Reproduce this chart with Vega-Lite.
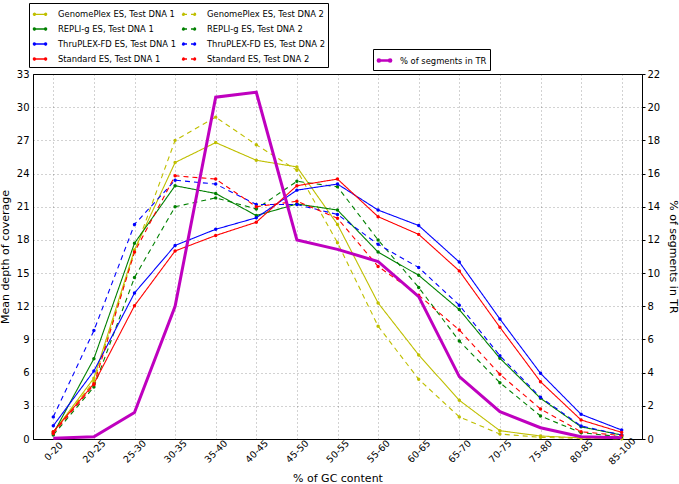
{
  "$schema": "https://vega.github.io/schema/vega-lite/v6.json",
  "width": 609,
  "height": 365,
  "autosize": {"type": "none"},
  "padding": {"left": 33, "top": 74, "right": 37, "bottom": 45},
  "config": {
    "font": "DejaVu Sans",
    "view": {"stroke": "#000", "strokeWidth": 1},
    "axis": {
      "domainColor": "#000", "tickColor": "#000", "labelColor": "#000", "titleColor": "#000",
      "titleFontWeight": "normal", "labelFontSize": 10, "titleFontSize": 11,
      "gridColor": "#000", "gridOpacity": 0.45, "gridDash": [1, 3], "gridWidth": 0.8
    },
    "legend": {"labelColor": "#000", "labelFont": "DejaVu Sans"}
  },
  "datasets": {
    "cov": [
      {"gc": "0-20", "series": "GenomePlex ES, Test DNA 1", "depth": 0.6},
      {"gc": "20-25", "series": "GenomePlex ES, Test DNA 1", "depth": 5.5},
      {"gc": "25-30", "series": "GenomePlex ES, Test DNA 1", "depth": 17.1},
      {"gc": "30-35", "series": "GenomePlex ES, Test DNA 1", "depth": 25.0},
      {"gc": "35-40", "series": "GenomePlex ES, Test DNA 1", "depth": 26.8},
      {"gc": "40-45", "series": "GenomePlex ES, Test DNA 1", "depth": 25.2},
      {"gc": "45-50", "series": "GenomePlex ES, Test DNA 1", "depth": 24.6},
      {"gc": "50-55", "series": "GenomePlex ES, Test DNA 1", "depth": 19.4},
      {"gc": "55-60", "series": "GenomePlex ES, Test DNA 1", "depth": 12.3},
      {"gc": "60-65", "series": "GenomePlex ES, Test DNA 1", "depth": 7.6},
      {"gc": "65-70", "series": "GenomePlex ES, Test DNA 1", "depth": 3.5},
      {"gc": "70-75", "series": "GenomePlex ES, Test DNA 1", "depth": 0.75},
      {"gc": "75-80", "series": "GenomePlex ES, Test DNA 1", "depth": 0.27},
      {"gc": "80-85", "series": "GenomePlex ES, Test DNA 1", "depth": 0.1},
      {"gc": "85-100", "series": "GenomePlex ES, Test DNA 1", "depth": 0.05},

      {"gc": "0-20", "series": "GenomePlex ES, Test DNA 2", "depth": 0.65},
      {"gc": "20-25", "series": "GenomePlex ES, Test DNA 2", "depth": 5.2},
      {"gc": "25-30", "series": "GenomePlex ES, Test DNA 2", "depth": 16.9},
      {"gc": "30-35", "series": "GenomePlex ES, Test DNA 2", "depth": 27.0},
      {"gc": "35-40", "series": "GenomePlex ES, Test DNA 2", "depth": 29.1},
      {"gc": "40-45", "series": "GenomePlex ES, Test DNA 2", "depth": 26.6},
      {"gc": "45-50", "series": "GenomePlex ES, Test DNA 2", "depth": 24.3},
      {"gc": "50-55", "series": "GenomePlex ES, Test DNA 2", "depth": 17.75},
      {"gc": "55-60", "series": "GenomePlex ES, Test DNA 2", "depth": 10.2},
      {"gc": "60-65", "series": "GenomePlex ES, Test DNA 2", "depth": 5.4},
      {"gc": "65-70", "series": "GenomePlex ES, Test DNA 2", "depth": 2.0},
      {"gc": "70-75", "series": "GenomePlex ES, Test DNA 2", "depth": 0.45},
      {"gc": "75-80", "series": "GenomePlex ES, Test DNA 2", "depth": 0.15},
      {"gc": "80-85", "series": "GenomePlex ES, Test DNA 2", "depth": 0.06},
      {"gc": "85-100", "series": "GenomePlex ES, Test DNA 2", "depth": 0.03},

      {"gc": "0-20", "series": "REPLI-g ES, Test DNA 1", "depth": 0.5},
      {"gc": "20-25", "series": "REPLI-g ES, Test DNA 1", "depth": 7.26},
      {"gc": "25-30", "series": "REPLI-g ES, Test DNA 1", "depth": 17.7},
      {"gc": "30-35", "series": "REPLI-g ES, Test DNA 1", "depth": 22.9},
      {"gc": "35-40", "series": "REPLI-g ES, Test DNA 1", "depth": 22.2},
      {"gc": "40-45", "series": "REPLI-g ES, Test DNA 1", "depth": 20.2},
      {"gc": "45-50", "series": "REPLI-g ES, Test DNA 1", "depth": 21.25},
      {"gc": "50-55", "series": "REPLI-g ES, Test DNA 1", "depth": 20.7},
      {"gc": "55-60", "series": "REPLI-g ES, Test DNA 1", "depth": 16.9},
      {"gc": "60-65", "series": "REPLI-g ES, Test DNA 1", "depth": 14.8},
      {"gc": "65-70", "series": "REPLI-g ES, Test DNA 1", "depth": 11.7},
      {"gc": "70-75", "series": "REPLI-g ES, Test DNA 1", "depth": 7.3},
      {"gc": "75-80", "series": "REPLI-g ES, Test DNA 1", "depth": 3.68},
      {"gc": "80-85", "series": "REPLI-g ES, Test DNA 1", "depth": 1.1},
      {"gc": "85-100", "series": "REPLI-g ES, Test DNA 1", "depth": 0.36},

      {"gc": "0-20", "series": "REPLI-g ES, Test DNA 2", "depth": 0.36},
      {"gc": "20-25", "series": "REPLI-g ES, Test DNA 2", "depth": 4.7},
      {"gc": "25-30", "series": "REPLI-g ES, Test DNA 2", "depth": 14.6},
      {"gc": "30-35", "series": "REPLI-g ES, Test DNA 2", "depth": 21.0},
      {"gc": "35-40", "series": "REPLI-g ES, Test DNA 2", "depth": 21.8},
      {"gc": "40-45", "series": "REPLI-g ES, Test DNA 2", "depth": 20.8},
      {"gc": "45-50", "series": "REPLI-g ES, Test DNA 2", "depth": 23.3},
      {"gc": "50-55", "series": "REPLI-g ES, Test DNA 2", "depth": 22.8},
      {"gc": "55-60", "series": "REPLI-g ES, Test DNA 2", "depth": 18.0},
      {"gc": "60-65", "series": "REPLI-g ES, Test DNA 2", "depth": 13.7},
      {"gc": "65-70", "series": "REPLI-g ES, Test DNA 2", "depth": 8.86},
      {"gc": "70-75", "series": "REPLI-g ES, Test DNA 2", "depth": 5.09},
      {"gc": "75-80", "series": "REPLI-g ES, Test DNA 2", "depth": 2.08},
      {"gc": "80-85", "series": "REPLI-g ES, Test DNA 2", "depth": 0.57},
      {"gc": "85-100", "series": "REPLI-g ES, Test DNA 2", "depth": 0.2},

      {"gc": "0-20", "series": "ThruPLEX-FD ES, Test DNA 1", "depth": 1.2},
      {"gc": "20-25", "series": "ThruPLEX-FD ES, Test DNA 1", "depth": 6.15},
      {"gc": "25-30", "series": "ThruPLEX-FD ES, Test DNA 1", "depth": 13.2},
      {"gc": "30-35", "series": "ThruPLEX-FD ES, Test DNA 1", "depth": 17.5},
      {"gc": "35-40", "series": "ThruPLEX-FD ES, Test DNA 1", "depth": 18.96},
      {"gc": "40-45", "series": "ThruPLEX-FD ES, Test DNA 1", "depth": 20.0},
      {"gc": "45-50", "series": "ThruPLEX-FD ES, Test DNA 1", "depth": 22.5},
      {"gc": "50-55", "series": "ThruPLEX-FD ES, Test DNA 1", "depth": 23.05},
      {"gc": "55-60", "series": "ThruPLEX-FD ES, Test DNA 1", "depth": 20.7},
      {"gc": "60-65", "series": "ThruPLEX-FD ES, Test DNA 1", "depth": 19.3},
      {"gc": "65-70", "series": "ThruPLEX-FD ES, Test DNA 1", "depth": 16.0},
      {"gc": "70-75", "series": "ThruPLEX-FD ES, Test DNA 1", "depth": 10.85},
      {"gc": "75-80", "series": "ThruPLEX-FD ES, Test DNA 1", "depth": 5.94},
      {"gc": "80-85", "series": "ThruPLEX-FD ES, Test DNA 1", "depth": 2.23},
      {"gc": "85-100", "series": "ThruPLEX-FD ES, Test DNA 1", "depth": 0.81},

      {"gc": "0-20", "series": "ThruPLEX-FD ES, Test DNA 2", "depth": 2.0},
      {"gc": "20-25", "series": "ThruPLEX-FD ES, Test DNA 2", "depth": 9.8},
      {"gc": "25-30", "series": "ThruPLEX-FD ES, Test DNA 2", "depth": 19.4},
      {"gc": "30-35", "series": "ThruPLEX-FD ES, Test DNA 2", "depth": 23.4},
      {"gc": "35-40", "series": "ThruPLEX-FD ES, Test DNA 2", "depth": 23.05},
      {"gc": "40-45", "series": "ThruPLEX-FD ES, Test DNA 2", "depth": 21.2},
      {"gc": "45-50", "series": "ThruPLEX-FD ES, Test DNA 2", "depth": 21.2},
      {"gc": "50-55", "series": "ThruPLEX-FD ES, Test DNA 2", "depth": 20.3},
      {"gc": "55-60", "series": "ThruPLEX-FD ES, Test DNA 2", "depth": 17.6},
      {"gc": "60-65", "series": "ThruPLEX-FD ES, Test DNA 2", "depth": 15.5},
      {"gc": "65-70", "series": "ThruPLEX-FD ES, Test DNA 2", "depth": 12.1},
      {"gc": "70-75", "series": "ThruPLEX-FD ES, Test DNA 2", "depth": 7.53},
      {"gc": "75-80", "series": "ThruPLEX-FD ES, Test DNA 2", "depth": 3.77},
      {"gc": "80-85", "series": "ThruPLEX-FD ES, Test DNA 2", "depth": 1.18},
      {"gc": "85-100", "series": "ThruPLEX-FD ES, Test DNA 2", "depth": 0.36},

      {"gc": "0-20", "series": "Standard ES, Test DNA 1", "depth": 0.66},
      {"gc": "20-25", "series": "Standard ES, Test DNA 1", "depth": 5.0},
      {"gc": "25-30", "series": "Standard ES, Test DNA 1", "depth": 12.05},
      {"gc": "30-35", "series": "Standard ES, Test DNA 1", "depth": 17.0},
      {"gc": "35-40", "series": "Standard ES, Test DNA 1", "depth": 18.4},
      {"gc": "40-45", "series": "Standard ES, Test DNA 1", "depth": 19.6},
      {"gc": "45-50", "series": "Standard ES, Test DNA 1", "depth": 22.9},
      {"gc": "50-55", "series": "Standard ES, Test DNA 1", "depth": 23.5},
      {"gc": "55-60", "series": "Standard ES, Test DNA 1", "depth": 20.1},
      {"gc": "60-65", "series": "Standard ES, Test DNA 1", "depth": 18.5},
      {"gc": "65-70", "series": "Standard ES, Test DNA 1", "depth": 15.2},
      {"gc": "70-75", "series": "Standard ES, Test DNA 1", "depth": 10.1},
      {"gc": "75-80", "series": "Standard ES, Test DNA 1", "depth": 5.18},
      {"gc": "80-85", "series": "Standard ES, Test DNA 1", "depth": 1.72},
      {"gc": "85-100", "series": "Standard ES, Test DNA 1", "depth": 0.6},

      {"gc": "0-20", "series": "Standard ES, Test DNA 2", "depth": 0.5},
      {"gc": "20-25", "series": "Standard ES, Test DNA 2", "depth": 4.9},
      {"gc": "25-30", "series": "Standard ES, Test DNA 2", "depth": 16.9},
      {"gc": "30-35", "series": "Standard ES, Test DNA 2", "depth": 23.8},
      {"gc": "35-40", "series": "Standard ES, Test DNA 2", "depth": 23.5},
      {"gc": "40-45", "series": "Standard ES, Test DNA 2", "depth": 21.0},
      {"gc": "45-50", "series": "Standard ES, Test DNA 2", "depth": 21.5},
      {"gc": "50-55", "series": "Standard ES, Test DNA 2", "depth": 19.95},
      {"gc": "55-60", "series": "Standard ES, Test DNA 2", "depth": 15.6},
      {"gc": "60-65", "series": "Standard ES, Test DNA 2", "depth": 13.0},
      {"gc": "65-70", "series": "Standard ES, Test DNA 2", "depth": 9.86},
      {"gc": "70-75", "series": "Standard ES, Test DNA 2", "depth": 5.85},
      {"gc": "75-80", "series": "Standard ES, Test DNA 2", "depth": 2.71},
      {"gc": "80-85", "series": "Standard ES, Test DNA 2", "depth": 0.66},
      {"gc": "85-100", "series": "Standard ES, Test DNA 2", "depth": 0.3}
    ],
    "tr": [
      {"gc": "0-20", "series": "% of segments in TR", "pct": 0.04},
      {"gc": "20-25", "series": "% of segments in TR", "pct": 0.14},
      {"gc": "25-30", "series": "% of segments in TR", "pct": 1.6},
      {"gc": "30-35", "series": "% of segments in TR", "pct": 8.0},
      {"gc": "35-40", "series": "% of segments in TR", "pct": 20.6},
      {"gc": "40-45", "series": "% of segments in TR", "pct": 20.9},
      {"gc": "45-50", "series": "% of segments in TR", "pct": 12.0},
      {"gc": "50-55", "series": "% of segments in TR", "pct": 11.43},
      {"gc": "55-60", "series": "% of segments in TR", "pct": 10.7},
      {"gc": "60-65", "series": "% of segments in TR", "pct": 8.58},
      {"gc": "65-70", "series": "% of segments in TR", "pct": 3.76},
      {"gc": "70-75", "series": "% of segments in TR", "pct": 1.65},
      {"gc": "75-80", "series": "% of segments in TR", "pct": 0.68},
      {"gc": "80-85", "series": "% of segments in TR", "pct": 0.14},
      {"gc": "85-100", "series": "% of segments in TR", "pct": 0.08}
    ]
  },
  "layer": [
    {
      "data": {"name": "cov"},
      "mark": {"type": "line", "strokeWidth": 1.1, "point": {"filled": true, "size": 12}},
      "encoding": {
        "x": {
          "field": "gc", "type": "ordinal", "sort": null,
          "scale": {"type": "point", "padding": 0.5, "domain": ["0-20","20-25","25-30","30-35","35-40","40-45","45-50","50-55","55-60","60-65","65-70","70-75","75-80","80-85","85-100"]},
          "axis": {"title": "% of GC content", "labelAngle": -45, "labelAlign": "center", "labelBaseline": "middle", "labelPadding": 12, "labelFontSize": 9.5, "ticks": false, "grid": true, "titlePadding": 6}
        },
        "y": {
          "field": "depth", "type": "quantitative",
          "scale": {"domain": [0, 33], "nice": false},
          "axis": {"orient": "left", "title": "Mean depth of coverage", "values": [0,3,6,9,12,15,18,21,24,27,30,33], "ticks": false, "labelPadding": 4, "grid": true, "titlePadding": 6}
        },
        "color": {
          "field": "series", "type": "nominal",
          "scale": {
            "domain": ["GenomePlex ES, Test DNA 1","REPLI-g ES, Test DNA 1","ThruPLEX-FD ES, Test DNA 1","Standard ES, Test DNA 1","GenomePlex ES, Test DNA 2","REPLI-g ES, Test DNA 2","ThruPLEX-FD ES, Test DNA 2","Standard ES, Test DNA 2"],
            "range": ["#bfbf00","#008000","#0000ff","#ff0000","#bfbf00","#008000","#0000ff","#ff0000"]
          },
          "legend": {"orient": "none", "legendX": -4, "legendY": -71, "columns": 2, "title": null, "labelFontSize": 8.4, "symbolType": "M-1,0H1M-0.95,0a0.15,0.15 0 1,0 0.3,0a0.15,0.15 0 1,0 -0.3,0M0.65,0a0.15,0.15 0 1,0 0.3,0a0.15,0.15 0 1,0 -0.3,0", "symbolSize": 196, "symbolStrokeWidth": 1.3, "labelOffset": 10, "columnPadding": 3, "rowPadding": 2, "padding": 3, "strokeColor": "#000", "fillColor": "#fff"}
        },
        "strokeDash": {
          "field": "series", "type": "nominal",
          "scale": {
            "domain": ["GenomePlex ES, Test DNA 1","REPLI-g ES, Test DNA 1","ThruPLEX-FD ES, Test DNA 1","Standard ES, Test DNA 1","GenomePlex ES, Test DNA 2","REPLI-g ES, Test DNA 2","ThruPLEX-FD ES, Test DNA 2","Standard ES, Test DNA 2"],
            "range": [[1,0],[1,0],[1,0],[1,0],[5,4],[5,4],[5,4],[5,4]]
          },
          "legend": {"orient": "none", "legendX": -4, "legendY": -71, "columns": 2, "title": null, "labelFontSize": 8.4, "symbolType": "M-1,0H1M-0.95,0a0.15,0.15 0 1,0 0.3,0a0.15,0.15 0 1,0 -0.3,0M0.65,0a0.15,0.15 0 1,0 0.3,0a0.15,0.15 0 1,0 -0.3,0", "symbolSize": 196, "symbolStrokeWidth": 1.3, "labelOffset": 10, "columnPadding": 3, "rowPadding": 2, "padding": 3, "strokeColor": "#000", "fillColor": "#fff"}
        }
      }
    },
    {
      "data": {"name": "tr"},
      "mark": {"type": "line", "strokeWidth": 3},
      "encoding": {
        "x": {
          "field": "gc", "type": "ordinal", "sort": null,
          "scale": {"type": "point", "padding": 0.5, "domain": ["0-20","20-25","25-30","30-35","35-40","40-45","45-50","50-55","55-60","60-65","65-70","70-75","75-80","80-85","85-100"]}
        },
        "y": {
          "field": "pct", "type": "quantitative",
          "scale": {"domain": [0, 22], "nice": false},
          "axis": {"orient": "right", "title": "% of segments in TR", "values": [0,2,4,6,8,10,12,14,16,18,20,22], "tickSize": 3, "labelPadding": 2, "grid": false, "titlePadding": 8}
        },
        "color": {
          "field": "series", "type": "nominal",
          "scale": {"domain": ["% of segments in TR"], "range": ["#bf00bf"]},
          "legend": {"orient": "none", "legendX": 340, "legendY": -25, "title": null, "labelFontSize": 8.4, "symbolType": "M-1,0H1M-0.95,0a0.15,0.15 0 1,0 0.3,0a0.15,0.15 0 1,0 -0.3,0M0.65,0a0.15,0.15 0 1,0 0.3,0a0.15,0.15 0 1,0 -0.3,0", "symbolSize": 196, "symbolStrokeWidth": 2.5, "labelOffset": 7, "padding": 3, "strokeColor": "#000", "fillColor": "#fff"}
        }
      }
    }
  ],
  "resolve": {"scale": {"y": "independent", "color": "independent", "strokeDash": "independent"}}
}
